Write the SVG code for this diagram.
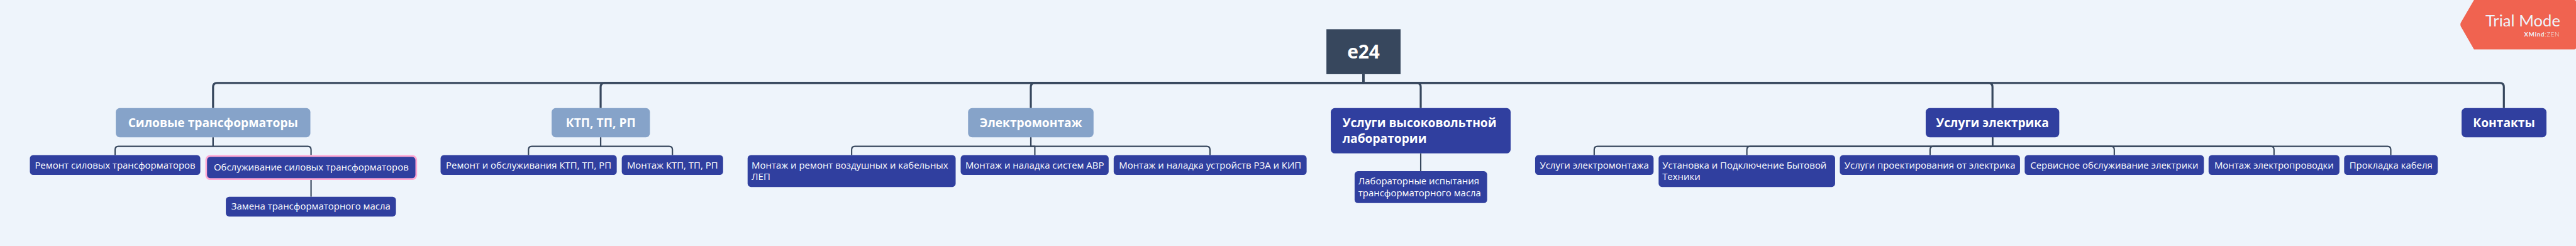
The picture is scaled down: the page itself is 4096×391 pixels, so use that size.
<svg xmlns="http://www.w3.org/2000/svg" width="4096" height="391" viewBox="0 0 4096 391">
<style>
.bg{fill:#EEF4FB}
.lt{fill:#86A3C9}
.dk{fill:#303F9F}
.root{fill:#37475D}
.c1{fill:none;stroke:#37475D;stroke-width:6;stroke-linejoin:round}
.c2{fill:none;stroke:#37475D;stroke-width:4;stroke-linejoin:round}
.t1{font-family:"Open Sans","Noto Sans",sans-serif;font-weight:700;font-size:36px;fill:#FFFFFF}
.t2{font-family:"Open Sans","Noto Sans",sans-serif;font-weight:400;font-size:28px;fill:#FFFFFF}
.mid{text-anchor:middle}
</style>
<rect class="bg" x="0" y="0" width="4096" height="391"/>
<g transform="scale(0.533542)">
<g id="connectors">
<path class="c1" d="M4063 221V247H647Q635 247 635 259V322"/>
<path class="c1" d="M4063 221V247H1802Q1790 247 1790 259V322"/>
<path class="c1" d="M4063 221V247H3084Q3072 247 3072 259V322"/>
<path class="c1" d="M4063 221V247H4222Q4234 247 4234 259V322"/>
<path class="c1" d="M4063 221V247H5926Q5938 247 5938 259V322"/>
<path class="c1" d="M4063 221V247H7450Q7462 247 7462 259V322"/>
<path class="c2" d="M635 409V436H353Q343 436 343 446V462"/>
<path class="c2" d="M635 409V436H917Q927 436 927 446V462"/>
<path class="c2" d="M927 536V586"/>
<path class="c2" d="M1790 409V436H1585Q1575 436 1575 446V462"/>
<path class="c2" d="M1790 409V436H1994Q2004 436 2004 446V462"/>
<path class="c2" d="M3072 409V436H2548Q2538 436 2538 446V462"/>
<path class="c2" d="M3072 409V436H3084V462"/>
<path class="c2" d="M3072 409V436H3596Q3606 436 3606 446V462"/>
<path class="c2" d="M4234 457V510"/>
<path class="c2" d="M5938 409V436H4761Q4751 436 4751 446V462"/>
<path class="c2" d="M5938 409V436H5216Q5206 436 5206 446V462"/>
<path class="c2" d="M5938 409V436H5762Q5752 436 5752 446V462"/>
<path class="c2" d="M5938 409V436H6291Q6301 436 6301 446V462"/>
<path class="c2" d="M5938 409V436H6767Q6777 436 6777 446V462"/>
<path class="c2" d="M5938 409V436H7115Q7125 436 7125 446V462"/>
</g>
<g id="root">
<rect class="root" x="3953" y="87" width="221" height="134"/>
<text class="t1 mid" x="4063.5" y="174" style="font-size:56px">e24</text>
</g>
<g id="n-silovye">
<rect class="lt" x="345" y="322" width="580" height="87" rx="12"/>
<text class="t1 mid" x="635" y="378">Силовые трансформаторы</text>
</g>
<g id="n-ktp">
<rect class="lt" x="1644" y="322" width="293" height="87" rx="12"/>
<text class="t1 mid" x="1790.5" y="378">КТП, ТП, РП</text>
</g>
<g id="n-elmontazh">
<rect class="lt" x="2885" y="322" width="374" height="87" rx="12"/>
<text class="t1 mid" x="3072" y="378">Электромонтаж</text>
</g>
<g id="n-lab">
<rect class="dk" x="3966" y="322" width="536" height="135" rx="12"/>
<text class="t1" x="4001" y="378">Услуги высоковольтной</text>
<text class="t1" x="4001" y="425">лаборатории</text>
</g>
<g id="n-elektrika">
<rect class="dk" x="5739" y="322" width="398" height="87" rx="12"/>
<text class="t1 mid" x="5938" y="378">Услуги электрика</text>
</g>
<g id="n-kontakty">
<rect class="dk" x="7336" y="322" width="253" height="87" rx="12"/>
<text class="t1 mid" x="7462.5" y="378">Контакты</text>
</g>
<g id="n-remont-sil">
<rect class="dk" x="89" y="462" width="508" height="59" rx="10"/>
<text class="t2 mid" x="343" y="502">Ремонт силовых трансформаторов</text>
</g>
<g id="n-obsl-sil">
<rect x="612" y="462" width="631" height="74" rx="14" fill="#FFA8D3"/>
<rect class="dk" x="617" y="467" width="621" height="64" rx="10"/>
<text class="t2 mid" x="927.5" y="508">Обслуживание силовых трансформаторов</text>
</g>
<g id="n-zamena">
<rect class="dk" x="673" y="586" width="507" height="59" rx="10"/>
<text class="t2 mid" x="926.5" y="625">Замена трансформаторного масла</text>
</g>
<g id="n-remont-ktp">
<rect class="dk" x="1313" y="462" width="525" height="59" rx="10"/>
<text class="t2 mid" x="1575.5" y="502">Ремонт и обслуживания КТП, ТП, РП</text>
</g>
<g id="n-montazh-ktp">
<rect class="dk" x="1853" y="462" width="302" height="59" rx="10"/>
<text class="t2 mid" x="2004" y="502">Монтаж КТП, ТП, РП</text>
</g>
<g id="n-lep">
<rect class="dk" x="2228" y="462" width="620" height="95" rx="10"/>
<text class="t2" x="2240" y="502">Монтаж и ремонт воздушных и кабельных</text>
<text class="t2" x="2240" y="537">ЛЕП</text>
</g>
<g id="n-avr">
<rect class="dk" x="2863" y="462" width="441" height="59" rx="10"/>
<text class="t2 mid" x="3083.5" y="502">Монтаж и наладка систем АВР</text>
</g>
<g id="n-rza">
<rect class="dk" x="3319" y="462" width="575" height="59" rx="10"/>
<text class="t2 mid" x="3606.5" y="502">Монтаж и наладка устройств РЗА и КИП</text>
</g>
<g id="n-lab-isp">
<rect class="dk" x="4037" y="510" width="395" height="95" rx="10"/>
<text class="t2" x="4048" y="549">Лабораторные испытания</text>
<text class="t2" x="4048" y="585">трансформаторного масла</text>
</g>
<g id="n-usl-elmont">
<rect class="dk" x="4575" y="462" width="353" height="59" rx="10"/>
<text class="t2 mid" x="4751.5" y="502">Услуги электромонтажа</text>
</g>
<g id="n-ustanovka">
<rect class="dk" x="4943" y="462" width="526" height="95" rx="10"/>
<text class="t2" x="4954" y="502">Установка и Подключение Бытовой</text>
<text class="t2" x="4954" y="537">Техники</text>
</g>
<g id="n-proekt">
<rect class="dk" x="5483" y="462" width="537" height="59" rx="10"/>
<text class="t2 mid" x="5751.5" y="502">Услуги проектирования от электрика</text>
</g>
<g id="n-servis">
<rect class="dk" x="6034" y="462" width="534" height="59" rx="10"/>
<text class="t2 mid" x="6301" y="502">Сервисное обслуживание электрики</text>
</g>
<g id="n-provodka">
<rect class="dk" x="6582" y="462" width="390" height="59" rx="10"/>
<text class="t2 mid" x="6777" y="502">Монтаж электропроводки</text>
</g>
<g id="n-kabel">
<rect class="dk" x="6986" y="462" width="279" height="59" rx="10"/>
<text class="t2 mid" x="7125.5" y="502">Прокладка кабеля</text>
</g>
<g id="trial-badge">
<path d="M7373 0H7672Q7677 0 7677 5V142Q7677 147 7672 147H7373L7334 79Q7331 73 7334 67Z" fill="#F06350"/>
<text x="7630" y="78" text-anchor="end" style="font-family:Lato,'Open Sans',sans-serif;font-size:48px;fill:#EEF4FB">Trial Mode</text>
<text x="7629" y="109" text-anchor="end" style="font-family:Lato,'Open Sans',sans-serif;font-size:18px;fill:#EEF4FB;letter-spacing:1.5px"><tspan font-weight="700">XMind</tspan><tspan font-weight="300">:ZEN</tspan></text>
</g>
</g>
</svg>
